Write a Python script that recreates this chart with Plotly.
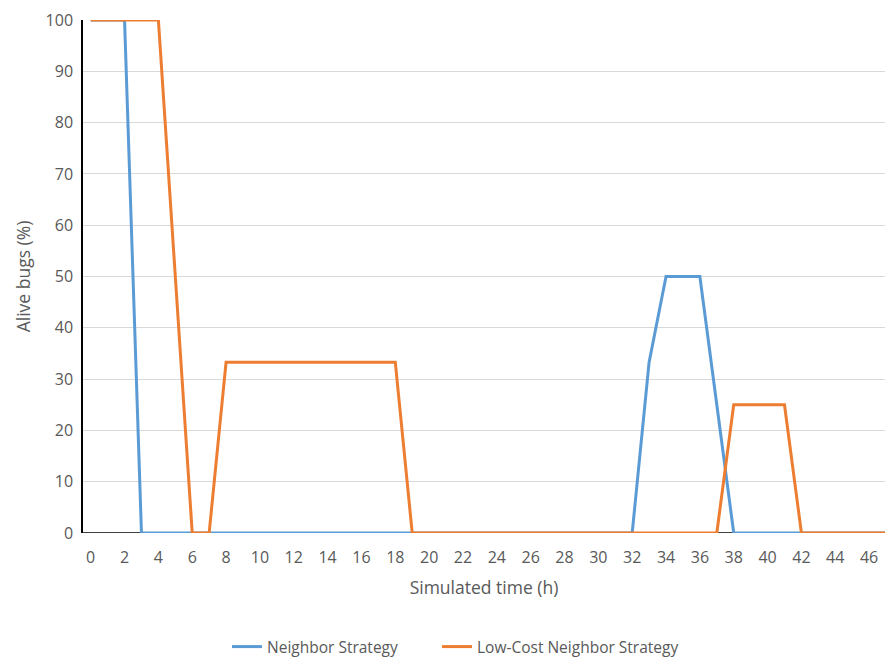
import plotly.graph_objects as go

hours = list(range(48))
neighbor = [100, 100, 100, 0, 0, 0, 0, 0, 0, 0,
            0, 0, 0, 0, 0, 0, 0, 0, 0, 0,
            0, 0, 0, 0, 0, 0, 0, 0, 0, 0,
            0, 0, 0, 33.3, 50, 50, 50, 25, 0, 0,
            0, 0, 0, 0, 0, 0, 0, 0]
low_cost = [100, 100, 100, 100, 100, 50, 0, 0, 33.3, 33.3,
            33.3, 33.3, 33.3, 33.3, 33.3, 33.3, 33.3, 33.3, 33.3, 0,
            0, 0, 0, 0, 0, 0, 0, 0, 0, 0,
            0, 0, 0, 0, 0, 0, 0, 0, 25, 25,
            25, 25, 0, 0, 0, 0, 0, 0]
x_ticks = list(range(0, 47, 2))
y_ticks = list(range(0, 101, 10))

FONT = "Open Sans"
GRAY = "#595959"

fig = go.Figure()
fig.add_trace(go.Scatter(x=hours, y=neighbor, mode="lines", name="Neighbor Strategy",
                         line=dict(color="#5B9BD5", width=3), legend="legend"))
fig.add_trace(go.Scatter(x=hours, y=low_cost, mode="lines", name="Low-Cost Neighbor Strategy",
                         line=dict(color="#ED7D31", width=3), legend="legend2"))

leg_common = dict(orientation="h", xanchor="left", xref="container",
                  y=0.0167, yanchor="middle", yref="container",
                  font=dict(size=15.5, color=GRAY), bgcolor="rgba(0,0,0,0)")

fig.update_layout(
    width=885, height=658,
    margin=dict(l=83, r=0, t=20, b=125, autoexpand=False),
    paper_bgcolor="white", plot_bgcolor="white",
    font=dict(family=FONT, size=16, color=GRAY),
    showlegend=True,
    legend=dict(x=0.2565, **leg_common),
    legend2=dict(x=0.4938, **leg_common),
    xaxis=dict(range=[-0.455, 46.94], tickmode="array", tickvals=x_ticks,
               ticktext=[str(v) for v in x_ticks], showgrid=False, zeroline=False,
               showline=False, ticks="", ticklabelstandoff=13, automargin=False,
               tickfont=dict(size=16, color=GRAY),
               title=dict(text="Simulated time (h)", standoff=14, font=dict(size=17.5, color=GRAY)),
               layer="below traces"),
    yaxis=dict(range=[0, 100], tickmode="array", tickvals=y_ticks,
               showgrid=True, gridcolor="#d9d9d9", gridwidth=1.2, zeroline=False,
               showline=True, linecolor="black", linewidth=1.5, ticks="",
               ticklabelstandoff=5, automargin=False,
               tickfont=dict(size=16, color=GRAY),
               title=dict(text="Alive bugs (%)", standoff=10, font=dict(size=17.5, color=GRAY)),
               layer="below traces"),
)
# black horizontal axis line drawn beneath the series
fig.add_shape(type="line", xref="paper", yref="y", x0=0, x1=1, y0=0, y1=0,
              line=dict(color="black", width=1.5), layer="below")

fig.write_html("out.html", config={"displayModeBar": False},
               post_script="document.body.style.margin='0';")
